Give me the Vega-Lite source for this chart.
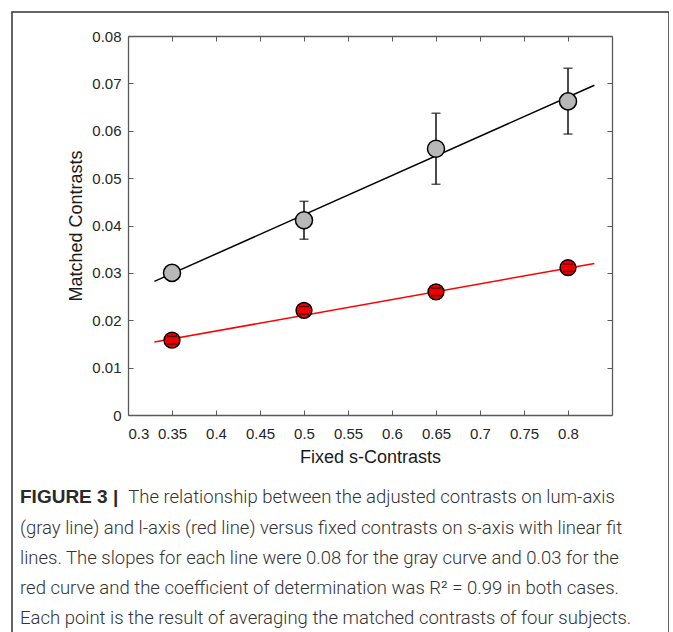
{
  "$schema": "https://vega.github.io/schema/vega-lite/v6.json",
  "width": 657,
  "height": 640,
  "autosize": "none",
  "padding": {"left": 12, "top": 12, "right": 0, "bottom": 0},
  "background": "white",
  "config": {
    "view": {"stroke": "#333333", "strokeWidth": 1.5},
    "axis": {
      "grid": false,
      "domainColor": "#5a5a5a",
      "domainWidth": 1.3,
      "tickColor": "#5a5a5a",
      "tickWidth": 1,
      "tickSize": -5,
      "labelFont": "Liberation Sans",
      "labelFontSize": 15,
      "labelColor": "#262626",
      "titleFont": "Liberation Sans",
      "titleFontSize": 18,
      "titleFontWeight": "normal",
      "titleColor": "#1a1a1a"
    }
  },
  "title": {
    "text": "FIGURE 3 |",
    "subtitle": [
      "\u200b\u00a0\u00a0\u00a0\u00a0\u00a0\u00a0\u00a0\u00a0\u00a0\u00a0\u00a0\u00a0\u00a0\u00a0\u00a0\u00a0\u00a0\u00a0\u00a0\u00a0\u00a0\u00a0\u00a0\u00a0The relationship between the adjusted contrasts on lum-axis",
      "(gray line) and l-axis (red line) versus fixed contrasts on s-axis with linear fit",
      "lines. The slopes for each line were 0.08 for the gray curve and 0.03 for the",
      "red curve and the coefficient of determination was R² = 0.99 in both cases.",
      "Each point is the result of averaging the matched contrasts of four subjects."
    ],
    "orient": "top",
    "anchor": "start",
    "frame": "group",
    "font": "Liberation Sans",
    "fontSize": 19,
    "fontWeight": "bold",
    "color": "#2a2a2a",
    "subtitleFont": "Roboto",
    "subtitleFontSize": 18.5,
    "subtitleFontWeight": 300,
    "subtitleColor": "#333333",
    "subtitleLineHeight": 30.3,
    "subtitlePadding": -19,
    "offset": 0,
    "dx": 8,
    "dy": 616
  },
  "datasets": {
    "points": [
      {"s": 0.35, "m": 0.0300, "lo": 0.0292, "hi": 0.0308, "series": "lum"},
      {"s": 0.5, "m": 0.0411, "lo": 0.0371, "hi": 0.0451, "series": "lum"},
      {"s": 0.65, "m": 0.0562, "lo": 0.0487, "hi": 0.0637, "series": "lum"},
      {"s": 0.8, "m": 0.0662, "lo": 0.0593, "hi": 0.0732, "series": "lum"},
      {"s": 0.35, "m": 0.0158, "lo": 0.0150, "hi": 0.0166, "series": "l"},
      {"s": 0.5, "m": 0.0221, "lo": 0.0213, "hi": 0.0229, "series": "l"},
      {"s": 0.65, "m": 0.0260, "lo": 0.0252, "hi": 0.0268, "series": "l"},
      {"s": 0.8, "m": 0.0311, "lo": 0.0303, "hi": 0.0319, "series": "l"}
    ],
    "fits": [
      {"s": 0.33, "m": 0.0282, "series": "lum"},
      {"s": 0.83, "m": 0.0696, "series": "lum"},
      {"s": 0.33, "m": 0.0154, "series": "l"},
      {"s": 0.83, "m": 0.0320, "series": "l"}
    ]
  },
  "layer": [
    {
      "data": {"name": "fits"},
      "mark": {"type": "line", "strokeWidth": 1.5},
      "encoding": {
        "x": {
          "field": "s", "type": "quantitative",
          "scale": {"domain": [0.3, 0.85], "range": [116, 600], "nice": false, "zero": false},
          "axis": {
            "orient": "bottom", "offset": -237,
            "values": [0.3, 0.35, 0.4, 0.45, 0.5, 0.55, 0.6, 0.65, 0.7, 0.75, 0.8],
            "format": "~g", "labelPadding": 16, "title": "Fixed s-Contrasts", "titlePadding": 7
          }
        },
        "y": {
          "field": "m", "type": "quantitative",
          "scale": {"domain": [0, 0.08], "range": [403, 24], "nice": false, "zero": false},
          "axis": {
            "orient": "left", "offset": -116,
            "values": [0, 0.01, 0.02, 0.03, 0.04, 0.05, 0.06, 0.07, 0.08],
            "format": "~g", "labelPadding": 12, "title": "Matched Contrasts", "titlePadding": 6
          }
        },
        "color": {
          "field": "series", "type": "nominal",
          "scale": {"domain": ["lum", "l"], "range": ["#000000", "#ff0000"]},
          "legend": null
        }
      }
    },
    {
      "data": {"name": "points"},
      "transform": [{"filter": "datum.series === 'lum'"}],
      "mark": {"type": "rule", "color": "#111111", "strokeWidth": 1.5},
      "encoding": {
        "x": {
          "field": "s", "type": "quantitative",
          "axis": {
            "orient": "top", "offset": -24, "labels": false, "title": null,
            "values": [0.3, 0.35, 0.4, 0.45, 0.5, 0.55, 0.6, 0.65, 0.7, 0.75, 0.8]
          }
        },
        "y": {
          "field": "lo", "type": "quantitative",
          "axis": {
            "orient": "right", "offset": -57, "labels": false, "title": null,
            "values": [0, 0.01, 0.02, 0.03, 0.04, 0.05, 0.06, 0.07, 0.08]
          }
        },
        "y2": {"field": "hi"}
      }
    },
    {
      "data": {"name": "points"},
      "transform": [{"filter": "datum.series === 'lum'"}, {"fold": ["lo", "hi"], "as": ["k", "v"]}],
      "mark": {"type": "tick", "orient": "horizontal", "size": 9, "thickness": 1.5, "color": "#111111"},
      "encoding": {
        "x": {"field": "s", "type": "quantitative", "axis": null},
        "y": {"field": "v", "type": "quantitative", "axis": null}
      }
    },
    {
      "data": {"name": "points"},
      "mark": {"type": "point", "shape": "circle", "filled": true, "opacity": 1, "stroke": "#000000", "strokeWidth": 1.5},
      "encoding": {
        "x": {"field": "s", "type": "quantitative", "axis": null},
        "y": {"field": "m", "type": "quantitative", "axis": null},
        "fill": {
          "field": "series", "type": "nominal",
          "scale": {"domain": ["lum", "l"], "range": ["#b8b8b8", "#ee0000"]},
          "legend": null
        },
        "size": {
          "field": "series", "type": "nominal",
          "scale": {"domain": ["lum", "l"], "range": [290, 250]},
          "legend": null
        }
      }
    },
    {
      "data": {"name": "points"},
      "transform": [{"filter": "datum.series === 'l'"}, {"fold": ["lo", "hi"], "as": ["k", "v"]}],
      "mark": {"type": "tick", "orient": "horizontal", "size": 10, "thickness": 1.5, "color": "#111111"},
      "encoding": {
        "x": {"field": "s", "type": "quantitative", "axis": null},
        "y": {"field": "v", "type": "quantitative", "axis": null}
      }
    }
  ],
  "resolve": {"axis": {"x": "independent", "y": "independent"}}
}
